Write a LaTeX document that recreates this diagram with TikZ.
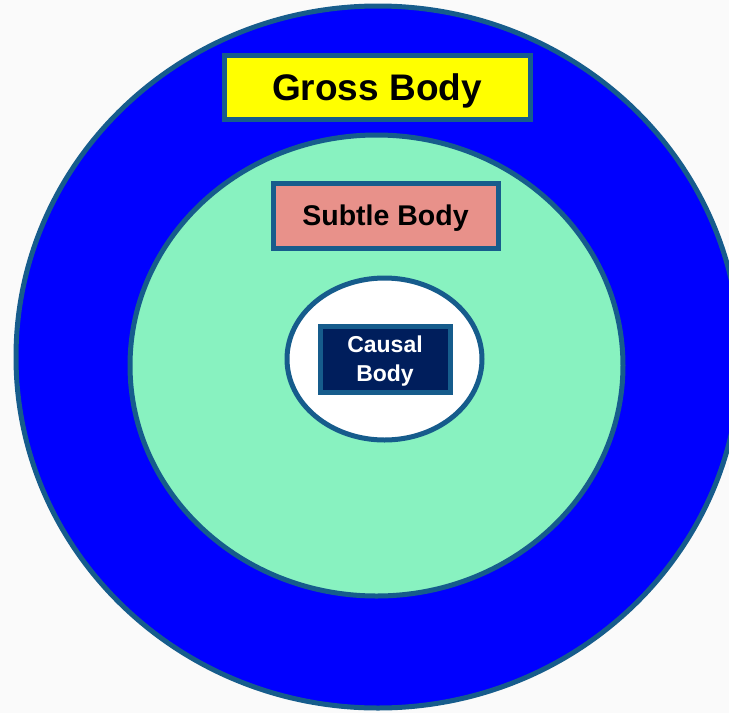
\documentclass[tikz,border=0pt]{standalone}
\usepackage{fontspec}
\setmainfont{Liberation Sans}
\usetikzlibrary{shapes.geometric}
\definecolor{bgc}{RGB}{250,250,250}
\definecolor{edgec}{RGB}{22,92,140}
\definecolor{outerfill}{RGB}{0,0,255}
\definecolor{midfill}{RGB}{136,242,192}
\definecolor{grossfill}{RGB}{255,255,0}
\definecolor{subtlefill}{RGB}{232,145,138}
\definecolor{causalfill}{RGB}{0,30,92}
\tikzset{
  ring/.style={ellipse, draw=edgec, line width=5pt, inner sep=0pt},
  label box/.style={rectangle, draw=edgec, line width=5pt, inner sep=0pt, align=center}
}
\begin{document}
\begin{tikzpicture}[x=1pt,y=-1pt]
\useasboundingbox (0,0) rectangle (729,713);
\fill[bgc] (0,0) rectangle (729,713);
\clip (0,0) rectangle (729,713);
\node[ring, fill=outerfill, minimum width=724pt, minimum height=702pt] (outer) at (378,357) {};
\node[ring, fill=midfill, minimum width=493pt, minimum height=461pt] (middle) at (376.5,365.5) {};
\node[ring, fill=white, minimum width=195pt, minimum height=162pt] (inner) at (384.5,359) {};
\node[label box, fill=grossfill, minimum width=306pt, minimum height=64pt,
  font={\bfseries\fontsize{37}{44}\selectfont}, text height=26.5pt, text depth=0pt] (gross) at (377,87) {Gross Body};
\node[label box, fill=subtlefill, minimum width=225pt, minimum height=65pt,
  font={\bfseries\fontsize{28.5}{34}\selectfont}, text height=20.4pt, text depth=0pt] (subtle) at (385.5,215.5) {Subtle Body};
\node[label box, fill=causalfill, text=white, minimum width=130pt, minimum height=66pt,
  font={\bfseries\fontsize{23}{29}\selectfont}, text depth=0pt] (causal) at (385,359) {Causal\\Body};
\end{tikzpicture}
\end{document}
